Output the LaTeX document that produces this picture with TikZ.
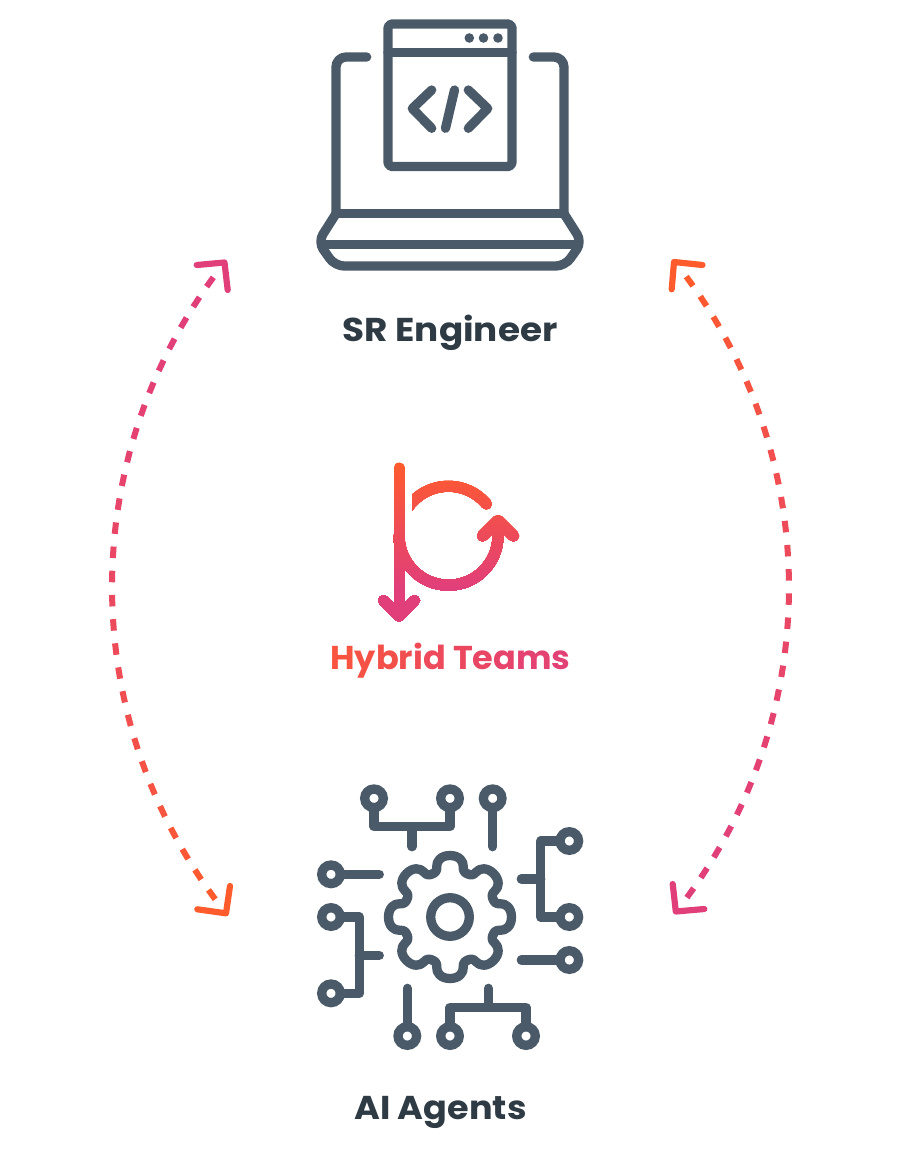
\documentclass[tikz,border=0pt]{standalone}
\usepackage{fontspec}
\setmainfont{Poppins}
\usepackage{tikz}
\usetikzlibrary{positioning}
\definecolor{slateicon}{HTML}{4A5A69}
\definecolor{slatetext}{HTML}{2F3B44}
\definecolor{orangeend}{HTML}{FF5B2C}
\definecolor{pinkend}{HTML}{E13F7A}
\newcommand{\hl}[2]{\textcolor{pinkend!#1!orangeend}{#2}}
\newcommand{\hybridicon}{%
	\draw [hybridstroke] (399,468)--(399,616);
	\draw [hybridstroke] (383.5,600.5)--(399,616)--(414.5,600.5);
	\draw [hybridstroke] (399,535.7) arc[start angle=180, end angle=360, radius=49.5pt]--(498,521);
	\draw [hybridstroke] (482.5,536)--(498,520.5)--(513.5,536);
	\begin{scope}
		\clip (412.3,470) rectangle (500,530);
		\draw [hybridstroke] (405.6,511) arc[start angle=150, end angle=40, radius=49.5pt];
	\end{scope}
}
\tikzset{
	iconline/.style={slateicon, line width=9.3pt, line cap=round, line join=round},
	wire/.style={iconline},
	ring/.style={circle, draw=slateicon, line width=9.3pt, minimum size=18.6pt, inner sep=0pt, outer sep=0pt},
	hybridstroke/.style={line width=11pt, line cap=round, line join=round},
	dashpiece/.style={line width=6pt},
	headline/.style={line width=6.2pt, line cap=round, line join=round},
	caption/.style={anchor=base, font=\fontsize{33}{33}\selectfont\bfseries},
}
\begin{document}
\begin{tikzpicture}[x=1pt, y=-1pt]
	\useasboundingbox (0,0) rectangle (900,1164);
	% laptop
	\draw [iconline, rounded corners=4pt] (388,24) rectangle (512,166.5);
	\draw [iconline] (388,52.3)--(512,52.3);
	\foreach \x in {469.3,483.5,498}{
		\fill [slateicon] (\x,38) circle (4.8pt);
	}
	\draw [iconline] (431.7,90)--(412.3,108.5)--(431.7,128.3);
	\draw [iconline] (468.3,90)--(487.7,108.5)--(468.3,128.3);
	\draw [iconline] (454.5,90)--(445.5,128.3);
	\draw [iconline, rounded corners=10pt] (366.7,57)--(336,57)--(336,213.7);
	\draw [iconline, rounded corners=10pt] (533.3,57)--(564,57)--(564,213.7);
	\draw [iconline] (336,213.7)--(564,213.7);
	\draw [iconline] (322,244.3)--(578,244.3);
	\draw [iconline, rounded corners=9pt] (336,213.7)--(318,242)--(335,266)--(565,266)--(582,242)--(564,213.7);
	% gear
	\coordinate (gearcentre) at (450,917);
	\foreach \t in {0,45,...,315}{
		\begin{scope}[shift={(gearcentre)}, rotate=\t]
			\draw [iconline] (-17.8,-43) .. controls (-14.5,-44.4) and (-13,-46) .. (-13.3,-50)
				.. controls (-13.7,-56) and (-9,-61.5) .. (0,-61.5)
				.. controls (9,-61.5) and (13.7,-56) .. (13.3,-50)
				.. controls (13,-46) and (14.5,-44.4) .. (17.8,-43);
		\end{scope}
	}
	\draw [iconline] (gearcentre) circle (19.3pt);
	% pins
	\node [ring] (topa) at (374,798.3) {};
	\node [ring] (topb) at (450,798.3) {};
	\node [ring] (topc) at (492.7,798.3) {};
	\node [ring] (righta) at (569.3,841) {};
	\node [ring] (rightb) at (569.3,917) {};
	\node [ring] (rightc) at (569.3,960) {};
	\node [ring] (lefta) at (331,874.3) {};
	\node [ring] (leftb) at (331,917) {};
	\node [ring] (leftc) at (331,993.3) {};
	\node [ring] (bota) at (407.3,1036) {};
	\node [ring] (botb) at (450,1036) {};
	\node [ring] (botc) at (526,1036) {};
	\coordinate (topbar) at (412,826.7);
	\coordinate (topstem) at (412,846.7);
	\coordinate (topend) at (492.7,846.7);
	\coordinate (leftbar) at (359.3,955.3);
	\coordinate (leftstem) at (379.3,955.3);
	\coordinate (leftend) at (379.3,874.3);
	\coordinate (rightbar) at (540.7,879);
	\coordinate (rightstem) at (521.3,879);
	\coordinate (rightend) at (521.3,960);
	\coordinate (botbar) at (488.3,1007.3);
	\coordinate (botstem) at (488.3,988.3);
	\coordinate (botend) at (407.3,988.3);
	\draw [wire] (topa)--(topa |- topbar)--(topb |- topbar)--(topb);
	\draw [wire] (topbar)--(topstem);
	\draw [wire] (topc)--(topend);
	\draw [wire] (lefta)--(leftend);
	\draw [wire] (leftb)--(leftbar |- leftb)--(leftbar |- leftc)--(leftc);
	\draw [wire] (leftbar)--(leftstem);
	\draw [wire] (righta)--(rightbar |- righta)--(rightbar |- rightb)--(rightb);
	\draw [wire] (rightbar)--(rightstem);
	\draw [wire] (rightc)--(rightend);
	\draw [wire] (bota)--(botend);
	\draw [wire] (botb)--(botb |- botbar)--(botc |- botbar)--(botc);
	\draw [wire] (botbar)--(botstem);
	% hybrid icon, in strips for the colour run
	\foreach \i in {0,...,55}{
		\pgfmathsetmacro{\pct}{min(100,100*\i/42)}
		\begin{scope}[draw=pinkend!\pct!orangeend]
			\clip (370,{460+3*\i}) rectangle (530,630);
			\hybridicon
		\end{scope}
	}
	% labels
	\node [caption, slatetext] (engineer) at (450,341) {\scalebox{1.085}[1]{SR Engineer}};
	\node [caption, slatetext] (agents) at (440.5,1119) {\scalebox{1.062}[1]{AI Agents}};
	\node [caption] (hybrid) at (450.5,669.5) {\scalebox{1.017}[1]{\hl{25}{H}\hl{32}{y}\hl{39}{b}\hl{46}{r}\hl{53}{i}\hl{60}{d} \hl{67}{T}\hl{74}{e}\hl{81}{a}\hl{88}{m}\hl{95}{s}}};
	% left arc
	\coordinate (leftcentre) at (636,587);
	\foreach \k in {0,...,27}{
		\pgfmathsetmacro{\ang}{215.6-2.65*\k}
		\pgfmathsetmacro{\pct}{100*(\k/27)^1.6}
		\draw [dashpiece, draw=orangeend!\pct!pinkend] ([shift={({\ang+0.63}:524)}]leftcentre)--([shift={({\ang-0.63}:524)}]leftcentre);
	}
	\coordinate (lefttop) at (224.5,262.5);
	\coordinate (leftbot) at (226,913.3);
	\draw [headline, draw=pinkend] (196.7,265)--(lefttop)--(227.7,290);
	\draw [headline, draw=orangeend] (197.3,909.3)--(leftbot)--(230,886);
	% right arc
	\coordinate (rightcentre) at (267,587.5);
	\foreach \k in {0,...,27}{
		\pgfmathsetmacro{\ang}{-35.93+2.657*\k}
		\pgfmathsetmacro{\pct}{100*((27-\k)/27)^1.6}
		\draw [dashpiece, draw=orangeend!\pct!pinkend] ([shift={({\ang-0.63}:522)}]rightcentre)--([shift={({\ang+0.63}:522)}]rightcentre);
	}
	\coordinate (righttop) at (674,262);
	\coordinate (rightbot) at (675.8,911.5);
	\draw [headline, draw=orangeend] (702.5,265)--(righttop)--(671.7,289.3);
	\draw [headline, draw=pinkend] (704.3,909)--(rightbot)--(672.7,884);
\end{tikzpicture}
\end{document}
